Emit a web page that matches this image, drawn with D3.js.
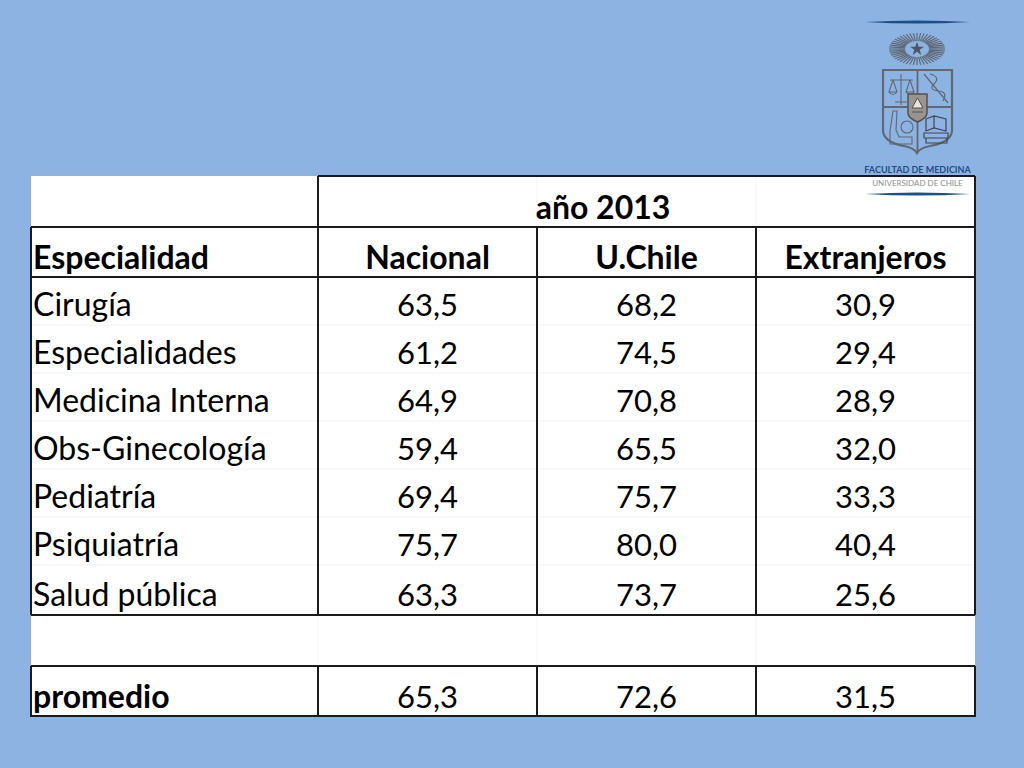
<!DOCTYPE html>
<html>
<head>
<meta charset="utf-8">
<script src="https://cdn.jsdelivr.net/npm/d3@7"></script>
<style>
html, body { margin: 0; padding: 0; background: #8db3e2; }
svg { display: block; }
text { font-family: Lato, "Open Sans", sans-serif; font-size: 32px; fill: #000; }
text.valor { font-size: 31px; }
</style>
</head>
<body>
<div id="chart"></div>
<script>
var especialidades = ["Cirugía", "Especialidades", "Medicina Interna", "Obs-Ginecología", "Pediatría", "Psiquiatría", "Salud pública"];
var nacional = ["63,5", "61,2", "64,9", "59,4", "69,4", "75,7", "63,3"];
var uchile = ["68,2", "74,5", "70,8", "65,5", "75,7", "80,0", "73,7"];
var extranjeros = ["30,9", "29,4", "28,9", "32,0", "33,3", "40,4", "25,6"];
var columnas = ["Nacional", "U.Chile", "Extranjeros"];
var promedio = ["65,3", "72,6", "31,5"];

var width = 1024, height = 768;
var dark = "#1a1a1a", faint = "#f4f4f4";

var svg = d3.select("#chart").append("svg")
    .attr("width", width)
    .attr("height", height);

// column edges and row bottoms of the table
var colEdges = [31, 318, 537, 756, 975];
var rowBottoms = [227, 277, 325, 373, 421, 469, 517, 565, 615, 666, 716];
var tableTop = 176;

svg.append("rect")
    .attr("x", colEdges[0])
    .attr("y", tableTop)
    .attr("width", colEdges[4] - colEdges[0])
    .attr("height", rowBottoms[10] - tableTop)
    .attr("fill", "#fff");

drawLogo();

// faint cell grid of the sheet
rowBottoms.slice(2, 9).forEach(function(y) {
    hLine(colEdges[0], colEdges[4], y, faint, 1);
});
[2, 3].forEach(function(i) {
    vLine(colEdges[i], tableTop, 227, faint, 1);
    vLine(colEdges[i], 615, 666, faint, 1);
});
vLine(colEdges[1], 615, 666, faint, 1);

// black borders
hLine(colEdges[1], colEdges[4], tableTop, dark, 2);
[227, 277, 615, 666, 716].forEach(function(y) {
    hLine(colEdges[0], colEdges[4], y, dark, 2);
});
vLine(colEdges[0], 227, 615, dark, 2);
vLine(colEdges[0], 666, 717, dark, 2);
vLine(colEdges[4], tableTop, 615, dark, 2);
vLine(colEdges[4], 666, 717, dark, 2);
vLine(colEdges[1], tableTop, 615, dark, 2);
vLine(colEdges[1], 666, 717, dark, 2);
[2, 3].forEach(function(i) {
    vLine(colEdges[i], 227, 615, dark, 2);
    vLine(colEdges[i], 666, 717, dark, 2);
});

function hLine(x1, x2, y, color, w) {
    svg.append("line").attr("x1", x1).attr("x2", x2).attr("y1", y).attr("y2", y)
        .attr("stroke", color).attr("stroke-width", w);
}
function vLine(x, y1, y2, color, w) {
    svg.append("line").attr("x1", x).attr("x2", x).attr("y1", y1).attr("y2", y2)
        .attr("stroke", color).attr("stroke-width", w);
}

function label(x, y, txt, anchor, bold, cls) {
    svg.append("text")
        .attr("class", cls || null)
        .attr("x", x)
        .attr("y", y)
        .attr("text-anchor", anchor)
        .attr("font-weight", bold ? "bold" : "normal")
        .text(txt);
}

var colCenter = function(i) { return (colEdges[i + 1] + colEdges[i + 2]) / 2; };
var textLeft = colEdges[0] + 2;

label(603, 219, "año 2013", "middle", true);
label(textLeft, 269, "Especialidad", "start", true);
columnas.forEach(function(c, i) {
    label(colCenter(i), 269, c, "middle", true);
});

especialidades.forEach(function(e, r) {
    var y = rowBottoms[r + 2] - 9;
    label(textLeft, y, e, "start", false);
    [nacional, uchile, extranjeros].forEach(function(serie, i) {
        label(colCenter(i), y, serie[r], "middle", false, "valor");
    });
});

label(textLeft, 708, "promedio", "start", true);
promedio.forEach(function(v, i) {
    label(colCenter(i), 708, v, "middle", false, "valor");
});

// faculty crest, top right
function drawLogo() {
    var logo = svg.append("g").attr("fill", "none");
    var gray = "#5f6874", navy = "#1f4e86";

    [22, 194].forEach(function(y) {
        logo.append("path")
            .attr("d", "M865 " + y + " Q917 " + (y - 3) + " 970 " + y + " Q917 " + (y + 3) + " 865 " + y + "Z")
            .attr("fill", navy);
    });

    d3.range(0, 360, 7.5).forEach(function(a) {
        var t = a * Math.PI / 180;
        logo.append("line")
            .attr("x1", 917 + 12 * Math.cos(t)).attr("y1", 49 + 8 * Math.sin(t))
            .attr("x2", 917 + 28 * Math.cos(t)).attr("y2", 49 + 16 * Math.sin(t))
            .attr("stroke", gray).attr("stroke-width", 1.2);
    });
    logo.append("path")
        .attr("d", d3.symbol().type(d3.symbolStar).size(60)())
        .attr("transform", "translate(917,49)")
        .attr("fill", "#4d5662");

    logo.append("path")
        .attr("d", "M883 70H952V130Q952 142 930 146Q920 148 917 153Q914 148 904 146Q883 142 883 130Z")
        .attr("stroke", gray).attr("stroke-width", 2.2);
    logo.append("path")
        .attr("d", "M917.5 70V153M883 107H952")
        .attr("stroke", gray).attr("stroke-width", 1.8);

    // scales, staff, flask, books
    logo.append("path")
        .attr("d", "M890 80H913M901 74V105M895 102H907M893 80L889 92H897L893 80M910 80L906 92H914L910 80M889 92Q893 97 897 92M906 92Q910 97 914 92")
        .attr("stroke", gray).attr("stroke-width", 1.1);
    logo.append("path")
        .attr("d", "M924 74L948 103M930 74Q941 77 934 84Q928 90 939 91Q948 92 943 101")
        .attr("stroke", gray).attr("stroke-width", 1.2);
    logo.append("path")
        .attr("d", "M893 111L897 111L896 130L899 137H912V144H890V131Z")
        .attr("stroke", gray).attr("stroke-width", 1.1);
    logo.append("circle").attr("cx", 907).attr("cy", 127).attr("r", 6)
        .attr("stroke", gray).attr("stroke-width", 1.1);
    logo.append("path")
        .attr("d", "M926 119L934 116L946 119V131L934 128L926 131ZM934 116V128M924 133H948V138H924ZM926 138H947V143H926Z")
        .attr("stroke", "#3f4853").attr("stroke-width", 1.2);

    logo.append("path")
        .attr("d", "M908 94H927V113Q927 118 917.5 122Q908 118 908 113Z")
        .attr("fill", "#9a9490").attr("stroke", "#55504e").attr("stroke-width", 1.5);
    logo.append("path")
        .attr("d", "M917.5 98L923 108H912ZM912 112H923")
        .attr("fill", "#e8e4de").attr("stroke", "#55504e").attr("stroke-width", 1);

    logo.append("text")
        .attr("x", 917.5).attr("y", 173)
        .attr("text-anchor", "middle")
        .attr("font-weight", "bold")
        .style("font-size", "9px")
        .style("fill", navy)
        .text("FACULTAD DE MEDICINA");
    logo.append("text")
        .attr("x", 917.5).attr("y", 186)
        .attr("text-anchor", "middle")
        .style("font-size", "8px")
        .style("fill", "#8a8f96")
        .text("UNIVERSIDAD DE CHILE");
}
</script>
</body>
</html>
